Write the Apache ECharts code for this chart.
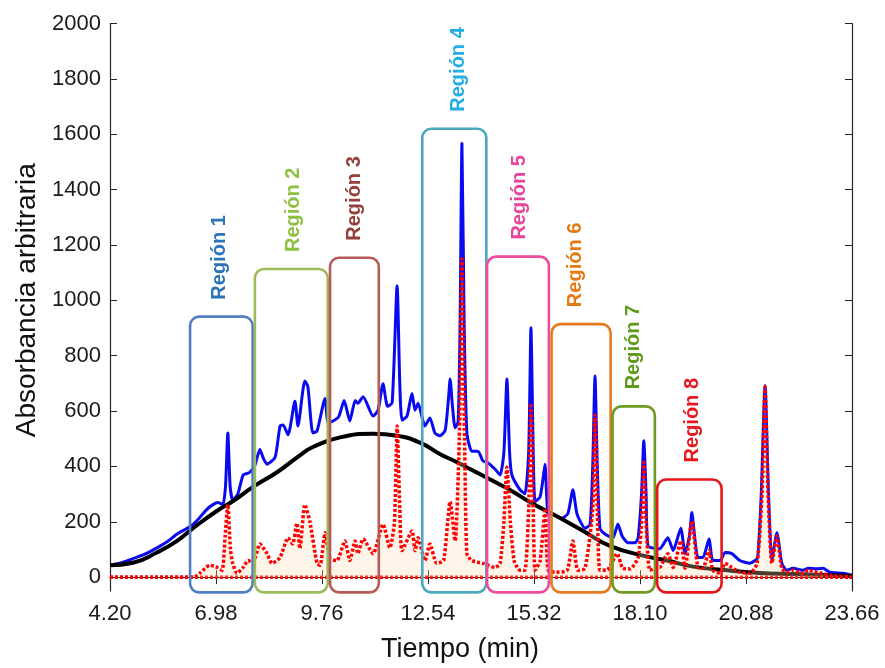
<!DOCTYPE html>
<html><head><meta charset="utf-8">
<script src="https://cdn.jsdelivr.net/npm/echarts@6/dist/echarts.min.js"></script>
<style>html,body{margin:0;padding:0;background:#fff}#c{width:885px;height:668px}</style>
</head><body><div id="c"></div>
<script>
// ---- tick labels ----
const xTicks = [4.20, 6.98, 9.76, 12.54, 15.32, 18.10, 20.88, 23.66];
const yTicks = [0, 200, 400, 600, 800, 1000, 1200, 1400, 1600, 1800, 2000];

// ---- measured chromatogram (blue) ----
const blueTime = [4.20,4.50,4.80,5.10,5.43,5.70,5.96,6.20,6.38,6.55,6.74,6.90,7.03,7.16,7.23,7.29,7.35,7.42,7.55,7.69,7.80,7.87,8.00,8.13,8.22,8.32,8.53,8.66,8.74,8.87,9.05,9.13,9.31,9.39,9.52,9.63,9.84,9.92,10.05,10.20,10.34,10.49,10.63,10.70,10.84,11.10,11.23,11.36,11.48,11.60,11.73,11.80,11.86,11.99,12.12,12.20,12.28,12.46,12.59,12.72,12.85,12.99,13.08,13.12,13.18,13.25,13.33,13.38,13.43,13.49,13.56,13.69,13.85,13.98,14.09,14.30,14.43,14.53,14.61,14.68,14.74,14.95,15.08,15.18,15.24,15.30,15.35,15.48,15.58,15.61,15.65,15.69,15.82,16.05,16.21,16.34,16.45,16.66,16.79,16.86,16.92,16.98,17.05,17.18,17.39,17.52,17.63,17.79,17.97,18.05,18.14,18.20,18.26,18.31,18.55,18.62,18.83,18.97,19.17,19.28,19.40,19.46,19.53,19.62,19.75,19.91,20.01,20.20,20.33,20.51,20.72,20.98,21.12,21.19,21.28,21.38,21.47,21.56,21.69,21.82,21.95,22.11,22.37,22.51,22.74,22.90,23.08,23.42,23.66];
const blueValue = [43,52,67,82,106,128,156,175,191,215,245,262,270,262,330,521,330,278,300,369,375,379,404,461,430,408,433,546,550,514,635,546,709,688,521,528,645,557,564,580,638,564,638,628,652,582,603,699,617,630,1053,700,567,582,663,603,628,546,575,521,511,530,650,716,620,540,560,900,1567,900,520,455,455,420,415,390,369,450,716,450,369,316,301,450,901,450,273,290,380,408,300,230,227,213,230,316,227,177,190,400,727,400,177,156,142,192,149,124,124,142,300,493,300,113,103,103,142,96,177,85,150,234,150,71,71,138,60,60,89,85,60,50,60,71,300,692,300,60,160,50,25,32,25,32,30,32,18,14,7];

// ---- fitted baseline (black) ----
const blackTime = [4.20,4.80,5.43,5.96,6.38,7.01,7.43,7.95,8.58,9.18,9.52,10.23,11.10,11.73,12.33,12.85,13.30,13.72,14.35,14.69,15.29,15.82,16.61,17.31,18.18,18.81,19.49,20.38,21.25,22.11,23.66];
const blackValue = [43,52,89,131,177,240,275,326,379,440,470,505,518,511,486,445,415,385,340,315,265,227,167,113,78,60,38,25,15,11,4];

// ---- residual signal (red dotted) ----
const redTime = [4.20,6.40,6.55,6.82,7.01,7.14,7.22,7.29,7.36,7.42,7.53,7.69,7.82,7.95,8.13,8.32,8.45,8.66,8.87,8.99,9.10,9.18,9.31,9.44,9.63,9.71,9.84,9.97,10.15,10.36,10.49,10.63,10.70,10.84,11.10,11.36,11.54,11.66,11.73,11.80,11.86,12.12,12.20,12.28,12.46,12.59,12.77,12.95,13.12,13.25,13.36,13.43,13.50,13.56,13.69,13.98,14.30,14.43,14.53,14.61,14.70,14.80,14.95,15.08,15.18,15.24,15.30,15.35,15.48,15.61,15.69,15.90,16.19,16.34,16.47,16.66,16.86,16.92,16.98,17.05,17.23,17.50,17.65,17.84,18.05,18.14,18.20,18.26,18.36,18.55,18.62,18.75,18.83,18.97,19.17,19.28,19.46,19.62,19.75,19.91,20.01,20.20,20.33,20.51,20.72,20.98,21.17,21.30,21.38,21.46,21.56,21.69,21.82,21.95,22.11,22.37,22.51,22.74,23.08,23.66];
const redValue = [0,0,14,43,35,25,150,262,100,50,14,35,60,53,120,85,50,71,142,120,195,103,262,202,50,43,160,67,60,131,60,131,85,138,85,191,106,200,546,250,96,167,96,142,60,120,50,60,273,131,500,1149,500,85,60,50,35,50,200,397,200,60,25,25,250,628,250,25,60,248,25,18,25,131,25,32,250,585,250,25,25,85,32,30,71,200,415,200,25,35,35,70,85,35,131,32,202,35,32,96,25,14,50,35,18,14,50,300,688,300,50,149,32,18,25,14,25,18,7,0];

// ---- zero reference (red dotted) ----
const zeroTime = [4.20, 23.66];
const zeroValue = [0, 0];

// ---- regions ----
const regionNames = ['Región 1','Región 2','Región 3','Región 4','Región 5','Región 6','Región 7','Región 8'];
const regionStart = [6.30, 8.00, 9.97, 12.39, 14.09, 15.78, 17.38, 18.55];
const regionEnd   = [7.94, 9.91, 11.25, 14.07, 15.71, 17.33, 18.49, 20.24];
const regionTop   = [941, 1113, 1154, 1620, 1158, 914, 617, 353];
const regionBottom = -55;
const regionLabelTime = [7.08, 9.02, 10.60, 13.34, 14.95, 16.40, 17.92, 19.48];

// ---- styles ----
const boxColors = ['#4f7fc0','#9bbb59','#b55a56','#4aa9bd','#ec4c9c','#e47a1e','#6f9a20','#e8151c'];
const labelColors = ['#2b74b8','#8cc040','#94403c','#22aee4','#e8449a','#e67a12','#5f9a1a','#e5191e'];
const FONT = '"Liberation Sans", Arial, sans-serif';
const AX = '#262626';

const zip = (a, b) => a.map((v, i) => [v, b[i]]);

const chart = echarts.init(document.getElementById('c'), null, {renderer: 'canvas'});
const redDot = {color: '#ff0000', width: 3.5, type: [3, 2], cap: 'butt'};

chart.setOption({
  animation: false,
  backgroundColor: '#fff',
  grid: {left: 110, right: 33, top: 23.5, bottom: 67.5, containLabel: false},
  xAxis: [{
    type: 'value', min: 4.20, max: 23.66,
    name: 'Tiempo (min)', nameLocation: 'middle', nameGap: 45,
    nameTextStyle: {fontFamily: FONT, fontSize: 27, color: '#111', padding: [0, 42, 0, 0]},
    axisLine: {show: true, lineStyle: {color: AX, width: 1.2}},
    axisTick: {show: true, inside: true, length: 7, customValues: xTicks, lineStyle: {color: AX}},
    axisLabel: {customValues: xTicks, margin: 12, fontFamily: FONT, fontSize: 22, color: '#1a1a1a',
      formatter: v => v.toFixed(2)},
    splitLine: {show: false}
  }, {
    type: 'value', position: 'top', min: 4.20, max: 23.66,
    axisLine: {show: true, lineStyle: {color: AX, width: 1.2}},
    axisTick: {show: true, inside: true, length: 7, customValues: xTicks, lineStyle: {color: AX}},
    axisLabel: {show: false}, splitLine: {show: false}
  }],
  yAxis: [{
    type: 'value', min: -50, max: 2000,
    name: 'Absorbancia arbitraria', nameLocation: 'middle', nameGap: 66,
    nameTextStyle: {fontFamily: FONT, fontSize: 28, color: '#111', padding: [0, 0, 0, 14]},
    axisLine: {show: true, lineStyle: {color: AX, width: 1.2}},
    axisTick: {show: true, inside: true, length: 7, customValues: yTicks, lineStyle: {color: AX}},
    axisLabel: {customValues: yTicks, margin: 9, fontFamily: FONT, fontSize: 22, color: '#1a1a1a',
      formatter: v => String(Math.round(v))},
    splitLine: {show: false}
  }, {
    type: 'value', position: 'right', min: -50, max: 2000,
    axisLine: {show: true, lineStyle: {color: AX, width: 1.2}},
    axisTick: {show: true, inside: true, length: 7, customValues: yTicks, lineStyle: {color: AX}},
    axisLabel: {show: false}, splitLine: {show: false}
  }],
  series: [
    {type: 'line', name: 'blue', data: zip(blueTime, blueValue), symbol: 'none', smooth: 0.2, z: 2,
      lineStyle: {color: '#0a0af0', width: 3}},
    {type: 'line', name: 'black', data: zip(blackTime, blackValue), symbol: 'none', smooth: 0.5, z: 3,
      lineStyle: {color: '#000', width: 4}},
    {type: 'line', name: 'zero', data: zip(zeroTime, zeroValue), symbol: 'none', z: 4,
      lineStyle: redDot},
    {type: 'line', name: 'red', data: zip(redTime, redValue), symbol: 'none', smooth: 0.2, z: 5,
      lineStyle: redDot, areaStyle: {color: 'rgba(250,215,170,0.4)', origin: 0}},
    {type: 'custom', name: 'regions', z: 10, clip: false,
      data: regionStart.map((s, i) => [s, regionEnd[i], regionTop[i], regionLabelTime[i]]),
      encode: {x: [0, 1, 3], y: 2},
      renderItem: function (params, api) {
        const i = params.dataIndex;
        const p0 = api.coord([api.value(0), api.value(2)]);
        const p1 = api.coord([api.value(1), regionBottom]);
        const pl = api.coord([api.value(3), api.value(2)]);
        return {type: 'group', children: [
          {type: 'rect', shape: {x: p0[0], y: p0[1], width: p1[0] - p0[0], height: p1[1] - p0[1], r: 9},
            style: {fill: null, stroke: boxColors[i], lineWidth: 2.6}},
          {type: 'text', x: pl[0], y: p0[1] - 17, rotation: Math.PI / 2,
            style: {text: regionNames[i], fill: labelColors[i], font: 'bold 20px ' + FONT,
              textAlign: 'left', textVerticalAlign: 'middle'}}
        ]};
      }
    }
  ]
});
</script></body></html>
